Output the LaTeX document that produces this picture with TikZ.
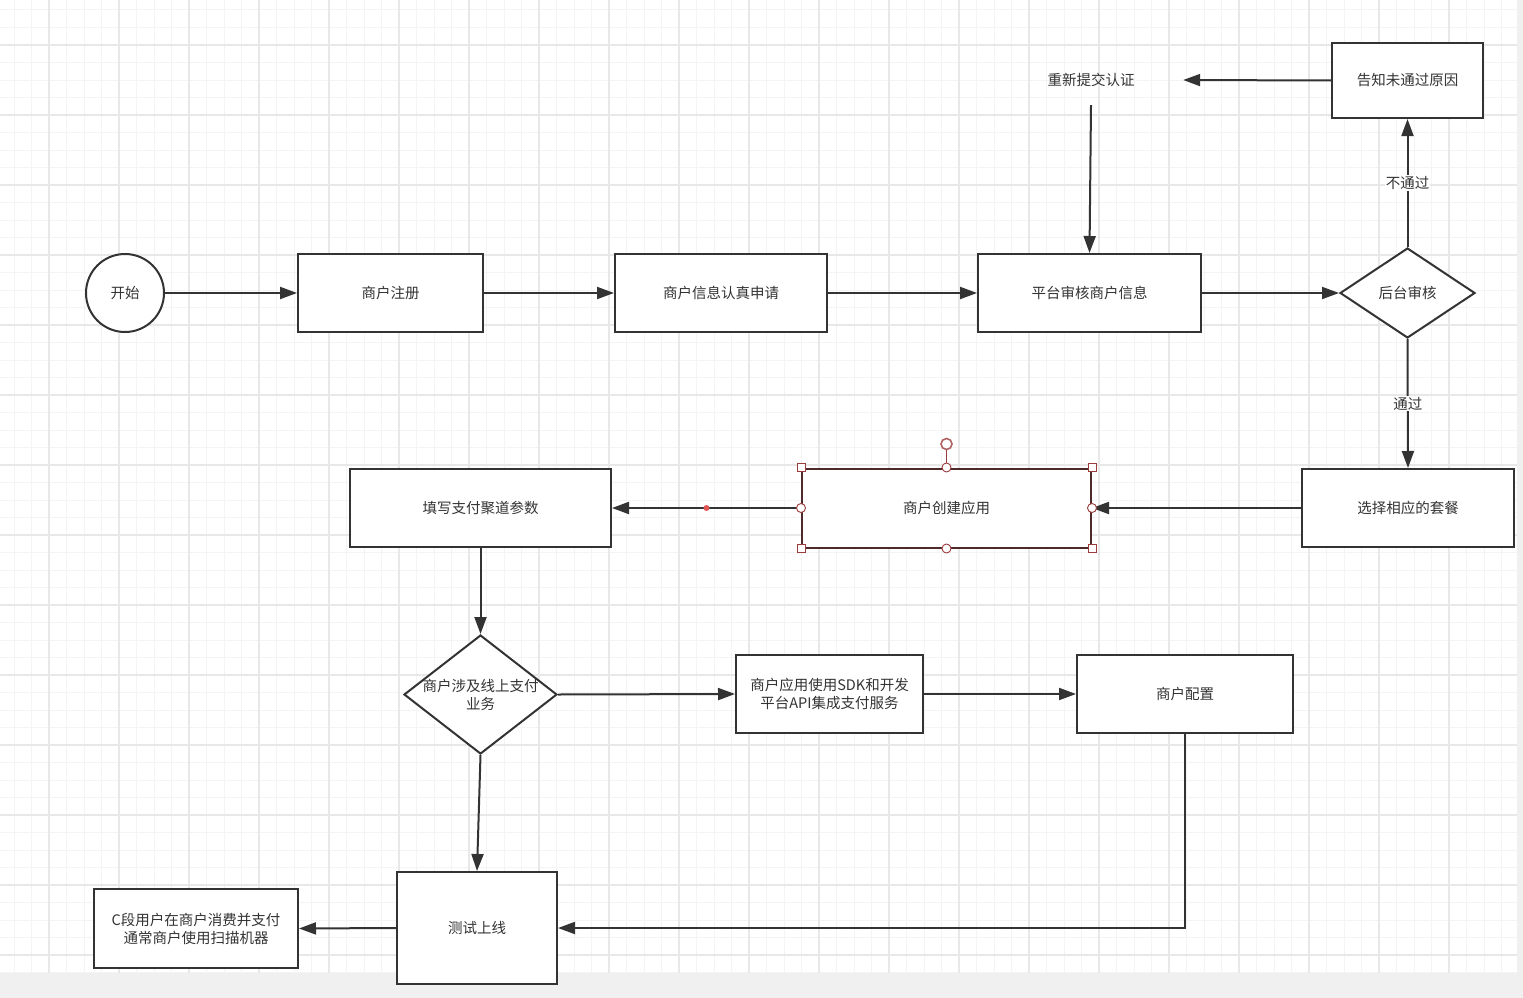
\documentclass[tikz,border=0pt]{standalone}
\usepackage{fontspec}
\newfontfamily\cjk{Noto Sans CJK SC}
\usetikzlibrary{arrows.meta,shapes.geometric}
\definecolor{ln}{HTML}{333333}
\definecolor{tx}{HTML}{333333}
\definecolor{band}{HTML}{F0F0F0}
\definecolor{gminorc}{HTML}{F4F4F4}
\definecolor{gmajorc}{HTML}{E8E8E8}
\definecolor{selb}{HTML}{4E2A2A}
\definecolor{hred}{HTML}{9B3B3B}
\definecolor{dotred}{HTML}{E05555}
\tikzset{
  gminor/.style={draw=gminorc, line width=1pt},
  gmajor/.style={draw=gmajorc, line width=1.2pt},
  box/.style={draw=ln, line width=2pt, fill=white, text=tx, inner sep=0pt, font=\cjk\fontsize{14.5}{18}\selectfont, align=center},
  circbox/.style={circle, draw=ln, line width=2pt, fill=white, text=tx, inner sep=0pt, minimum size=78, font=\cjk\fontsize{14.5}{18}\selectfont},
  dia/.style={diamond, draw=ln, line width=2pt, fill=white, inner sep=0pt},
  plain/.style={text=tx, inner sep=0pt, font=\cjk\fontsize{14.5}{18}\selectfont, align=center},
  conn/.style={draw=ln, line width=2pt, -{Triangle[length=17pt,width=12pt]}},
  lab/.style={fill=white, text=tx, inner sep=1pt, font=\cjk\fontsize{14.5}{18}\selectfont},
  hsq/.style={rectangle, draw=hred, fill=white, line width=0.9pt, minimum size=8, inner sep=0pt},
  hci/.style={circle, draw=hred, fill=white, line width=0.9pt, minimum size=9, inner sep=0pt},
  hrot/.style={circle, draw=hred!80, fill=white, line width=1.6pt, minimum size=11, inner sep=0pt},
}
\begin{document}
\begin{tikzpicture}[x=1pt,y=-1pt]
\useasboundingbox (0,0) rectangle (1523,998);
\fill[band] (0,0) rectangle (1523,998);
\fill[white] (0,0) rectangle (1517,973);
\begin{scope}
\clip (0,0) rectangle (1517,973);
\foreach \i in {0,...,86} \draw[gminor] ({14+17.5*\i},0) -- ++(0,973);
\foreach \i in {0,...,55} \draw[gminor] (0,{10+17.5*\i}) -- ++(1517,0);
\foreach \i in {0,...,21} \draw[gmajor] ({49+70*\i},0) -- ++(0,973);
\foreach \i in {0,...,13} \draw[gmajor] (0,{45+70*\i}) -- ++(1517,0);
\end{scope}

% nodes
\node[circbox] (start) at (125,293) {开始};
\node[box, minimum width=185, minimum height=78] (reg) at (390.5,293) {商户注册};
\node[box, minimum width=212, minimum height=78] (apply) at (721,293) {商户信息认真申请};
\node[box, minimum width=223, minimum height=78] (audit) at (1089.5,293) {平台审核商户信息};
\node[dia, minimum width=135, minimum height=90] (bk) at (1407.5,293) {};
\node[plain] (bkt) at (1407.5,293) {后台审核};
\node[box, minimum width=151, minimum height=75] (tell) at (1407.5,80.5) {告知未通过原因};
\node[plain, minimum width=184, minimum height=50] (resub) at (1091,80) {重新提交认证};
\node[box, minimum width=212, minimum height=78] (choose) at (1408,508) {选择相应的套餐};
\node[box, draw=selb, minimum width=289, minimum height=79] (create) at (946.5,508) {商户创建应用};
\node[box, minimum width=261, minimum height=78] (fillp) at (480.5,508) {填写支付聚道参数};
\node[dia, minimum width=153, minimum height=119] (d2) at (480.5,694.5) {};
\node[plain] (d2t) at (480.5,694.5) {商户涉及线上支付\\业务};
\node[box, minimum width=187, minimum height=78] (sdk) at (829.5,694) {商户应用使用SDK和开发\\平台API集成支付服务};
\node[box, minimum width=216, minimum height=78] (cfg) at (1185,694) {商户配置};
\node[box, minimum width=160, minimum height=112] (test) at (477,928) {测试上线};
\node[box, minimum width=204, minimum height=79] (cpay) at (196,928.5) {C段用户在商户消费并支付\\通常商户使用扫描机器};

% connectors
\draw[conn] (start.east) -- (reg.west);
\draw[conn] (reg.east) -- (apply.west);
\draw[conn] (apply.east) -- (audit.west);
\draw[conn] (audit.east) -- (bk.west);
\draw[conn] (bk.north) -- node[lab] (l1) {不通过} (tell.south);
\draw[conn] (tell.west) -- (resub.east);
\draw[conn] (resub.south) -- (audit.north);
\draw[conn] (bk.south) -- node[lab] (l2) {通过} (choose.north);
\draw[conn] (choose.west) -- (create.east);
\draw[conn] (create.west) -- node[circle, fill=dotred, minimum size=6, inner sep=0pt] (dot) {} (fillp.east);
\draw[conn] (fillp.south) -- (d2.north);
\draw[conn] (d2.east) -- (sdk.west);
\draw[conn] (sdk.east) -- (cfg.west);
\draw[conn] (cfg.south) |- (test.east);
\draw[conn] (d2.south) -- (test.north);
\draw[conn] (test.west) -- (cpay.east);

% selection handles
\node[hrot] (rot) at (946.5,444) {};
\node[hci] (hn) at (create.north) {};
\draw[hred, line width=1.2pt] (rot.south) -- (hn.north);
\node[hsq] (hnw) at (create.north west) {};
\node[hsq] (hne) at (create.north east) {};
\node[hsq] (hsw) at (create.south west) {};
\node[hsq] (hse) at (create.south east) {};
\node[hci] (hs) at (create.south) {};
\node[hci] (hw) at (create.west) {};
\node[hci] (he) at (create.east) {};
\end{tikzpicture}
\end{document}
